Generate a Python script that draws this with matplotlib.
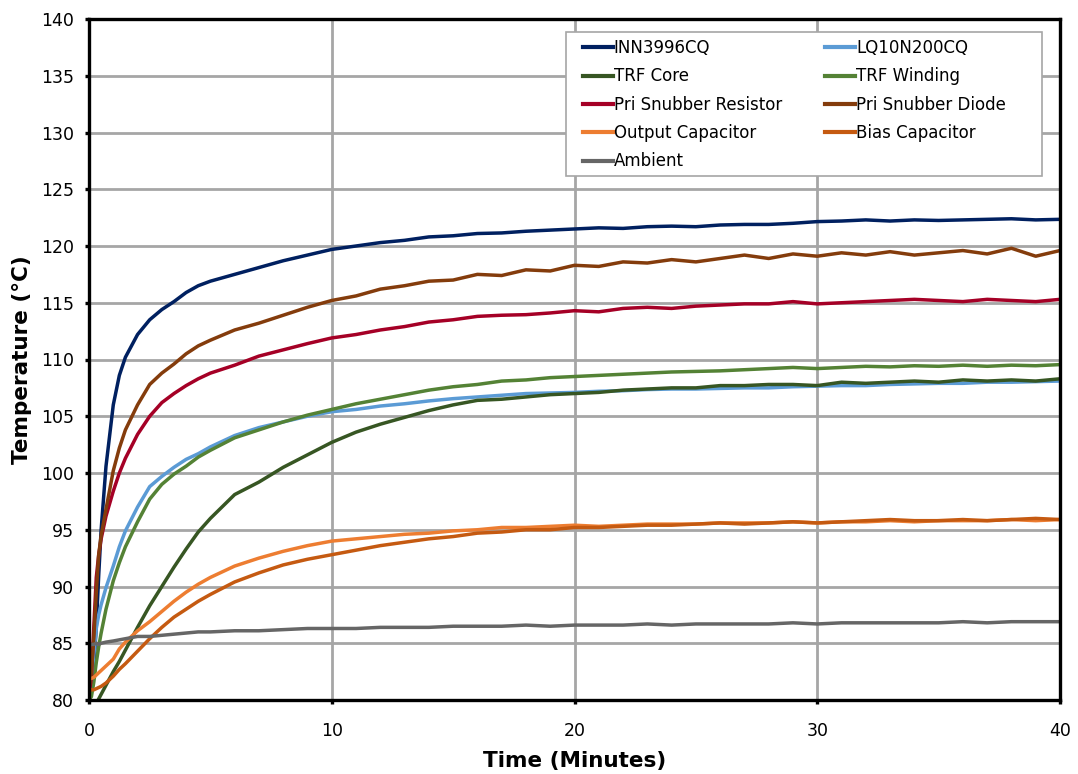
import matplotlib
matplotlib.use("Agg")
import matplotlib.pyplot as plt
from matplotlib.patches import Rectangle

# Time axis (minutes)
time_min = [0, 0.1, 0.2, 0.3, 0.4, 0.5, 0.7, 1.0, 1.25, 1.5, 2, 2.5, 3, 3.5, 4, 4.5, 5, 6, 7, 8, 9,
            10, 11, 12, 13, 14, 15, 16, 17, 18, 19, 20, 21, 22, 23, 24, 25, 26, 27, 28, 29, 30,
            31, 32, 33, 34, 35, 36, 37, 38, 39, 40]

inn3996cq = [80.5, 81.5, 83.0, 86.5, 91.0, 95.0, 100.6, 106.0, 108.6, 110.2, 112.2, 113.5, 114.4, 115.1,
             115.9, 116.5, 116.9, 117.5, 118.1, 118.7, 119.2,
             119.7, 120.0, 120.3, 120.5, 120.8, 120.9, 121.1, 121.15, 121.3, 121.4, 121.5, 121.6, 121.55,
             121.7, 121.75, 121.7, 121.85, 121.9, 121.9, 122.0, 122.15, 122.2, 122.3, 122.2, 122.3,
             122.25, 122.3, 122.35, 122.4, 122.3, 122.35]

lq10n200cq = [80.5, 81.5, 84.0, 86.3, 87.5, 88.4, 89.9, 91.8, 93.5, 94.9, 97.0, 98.8, 99.7, 100.5,
              101.2, 101.7, 102.3, 103.3, 104.0, 104.5, 105.0,
              105.4, 105.6, 105.9, 106.1, 106.35, 106.55, 106.7, 106.85, 107.0, 107.05, 107.1, 107.2,
              107.25, 107.35, 107.4, 107.4, 107.45, 107.5, 107.5, 107.6, 107.65, 107.7, 107.7, 107.8,
              107.85, 107.9, 107.9, 108.0, 108.0, 108.05, 108.1]

trf_core = [78.6, 78.9, 79.3, 79.7, 80.1, 80.5, 81.3, 82.5, 83.4, 84.4, 86.4, 88.3, 90.0, 91.7,
            93.3, 94.8, 96.0, 98.1, 99.2, 100.5, 101.6,
            102.7, 103.6, 104.3, 104.9, 105.5, 106.0, 106.4, 106.5, 106.7, 106.9, 107.0, 107.1, 107.3,
            107.4, 107.5, 107.5, 107.7, 107.7, 107.8, 107.8, 107.7, 108.0, 107.9, 108.0, 108.1, 108.0,
            108.2, 108.1, 108.2, 108.1, 108.3]

trf_winding = [80.0, 80.3, 81.6, 83.3, 84.7, 85.9, 88.0, 90.5, 92.1, 93.5, 95.7, 97.7, 99.0, 99.9,
               100.6, 101.4, 102.0, 103.1, 103.8, 104.5, 105.1,
               105.6, 106.1, 106.5, 106.9, 107.3, 107.6, 107.8, 108.1, 108.2, 108.4, 108.5, 108.6, 108.7,
               108.8, 108.9, 108.95, 109.0, 109.1, 109.2, 109.3, 109.2, 109.3, 109.4, 109.35, 109.45,
               109.4, 109.5, 109.4, 109.5, 109.45, 109.55]

pri_snubber_resistor = [80.5, 82.0, 86.5, 90.8, 92.8, 94.2, 96.2, 98.4, 100.0, 101.3, 103.4, 105.0, 106.2,
                        107.0, 107.7, 108.3, 108.8, 109.5, 110.3, 110.85, 111.4,
                        111.9, 112.2, 112.6, 112.9, 113.3, 113.5, 113.8, 113.9, 113.95, 114.1, 114.3, 114.2,
                        114.5, 114.6, 114.5, 114.7, 114.8, 114.9, 114.9, 115.1, 114.9, 115.0, 115.1, 115.2,
                        115.3, 115.2, 115.1, 115.3, 115.2, 115.1, 115.3]

pri_snubber_diode = [81.0, 82.5, 85.5, 89.5, 92.8, 94.5, 96.8, 100.2, 102.2, 103.8, 106.0, 107.8, 108.8,
                     109.6, 110.5, 111.2, 111.7, 112.6, 113.2, 113.9, 114.6,
                     115.2, 115.6, 116.2, 116.5, 116.9, 117.0, 117.5, 117.4, 117.9, 117.8, 118.3, 118.2,
                     118.6, 118.5, 118.8, 118.6, 118.9, 119.2, 118.9, 119.3, 119.1, 119.4, 119.2, 119.5,
                     119.2, 119.4, 119.6, 119.3, 119.8, 119.1, 119.6]

output_capacitor = [81.9, 81.9, 82.0, 82.2, 82.4, 82.6, 83.0, 83.6, 84.5, 85.1, 86.1, 86.9, 87.8, 88.7,
                    89.5, 90.2, 90.8, 91.8, 92.5, 93.1, 93.6,
                    94.0, 94.2, 94.4, 94.6, 94.7, 94.9, 95.0, 95.2, 95.2, 95.3, 95.4, 95.3, 95.4, 95.5,
                    95.5, 95.5, 95.6, 95.6, 95.6, 95.7, 95.6, 95.7, 95.7, 95.8, 95.7, 95.8, 95.8, 95.8,
                    95.9, 95.8, 95.9]

bias_capacitor = [81.0, 80.9, 80.9, 81.0, 81.1, 81.2, 81.5, 82.1, 82.7, 83.2, 84.3, 85.4, 86.4, 87.3,
                  88.0, 88.7, 89.3, 90.4, 91.2, 91.9, 92.4,
                  92.8, 93.2, 93.6, 93.9, 94.2, 94.4, 94.7, 94.8, 95.0, 95.0, 95.2, 95.2, 95.3, 95.4,
                  95.4, 95.5, 95.6, 95.5, 95.6, 95.7, 95.6, 95.7, 95.8, 95.9, 95.8, 95.8, 95.9, 95.8,
                  95.9, 96.0, 95.9]

ambient = [84.8, 84.9, 84.9, 85.0, 84.9, 85.0, 85.1, 85.2, 85.3, 85.4, 85.6, 85.6, 85.7, 85.8,
           85.9, 86.0, 86.0, 86.1, 86.1, 86.2, 86.3,
           86.3, 86.3, 86.4, 86.4, 86.4, 86.5, 86.5, 86.5, 86.6, 86.5, 86.6, 86.6, 86.6, 86.7,
           86.6, 86.7, 86.7, 86.7, 86.7, 86.8, 86.7, 86.8, 86.8, 86.8, 86.8, 86.8, 86.9, 86.8,
           86.9, 86.9, 86.9]

series_names = ["INN3996CQ", "LQ10N200CQ", "TRF Core", "TRF Winding", "Pri Snubber Resistor",
                "Pri Snubber Diode", "Output Capacitor", "Bias Capacitor", "Ambient"]
series_values = [inn3996cq, lq10n200cq, trf_core, trf_winding, pri_snubber_resistor,
                 pri_snubber_diode, output_capacitor, bias_capacitor, ambient]
series_colors = ["#002060", "#5B9BD5", "#375623", "#548235", "#A50026",
                 "#843C0C", "#ED7D31", "#C55A11", "#666666"]

x_ticks = [0, 10, 20, 30, 40]
y_ticks = list(range(80, 141, 5))

plt.rcParams['font.family'] = ['DejaVu Sans']

W, H = 1078, 774
fig = plt.figure(figsize=(W / 100, H / 100), dpi=100)
L, R, T, B = 89, 1060, 19, 700
ax = fig.add_axes([L / W, 1 - B / H, (R - L) / W, (B - T) / H])

def ax_x(px):
    return (px - L) / (R - L)

def ax_y(py):
    return (B - py) / (B - T)

lines = {}
for name, vals, col in zip(series_names, series_values, series_colors):
    ln, = ax.plot(time_min, vals, color=col, lw=2.5, label=name, solid_joinstyle='round')
    lines[name] = ln

ax.set_xlim(0, 40)
ax.set_ylim(80, 140)
ax.set_xticks(x_ticks)
ax.set_yticks(y_ticks)
ax.grid(True, color="#A6A6A6", lw=2.0)
ax.set_axisbelow(True)

for sp in ax.spines.values():
    sp.set_color("black")
    sp.set_linewidth(2.4)

ax.tick_params(axis='both', direction='out', length=3, width=2.4, labelsize=12.5, colors='black')
ax.tick_params(axis='y', pad=8)
ax.tick_params(axis='x', pad=13)

ax.set_xlabel("Time (Minutes)", fontsize=15.5, fontweight='bold', labelpad=8)
ax.set_ylabel("Temperature (°C)", fontsize=15.5, fontweight='bold', labelpad=6)

# legend frame (Excel style, with extra right margin)
frame = Rectangle((ax_x(566), ax_y(176)), ax_x(1042) - ax_x(566), ax_y(32) - ax_y(176),
                  transform=ax.transAxes, facecolor='white', edgecolor='#A6A6A6', lw=1.2,
                  zorder=4.5)
ax.add_patch(frame)

# legend order: column-major in matplotlib -> reorder for row-wise appearance
order = [0, 2, 4, 6, 8, 1, 3, 5, 7]
handles = [lines[series_names[i]] for i in order]
labels = [series_names[i] for i in order]
leg = ax.legend(handles, labels, ncol=2, loc='upper left', bbox_to_anchor=(ax_x(583), ax_y(39)),
                fontsize=12, frameon=False,
                handlelength=1.8, handletextpad=0.05, labelspacing=0.62, columnspacing=2.6,
                borderpad=0, borderaxespad=0)
leg.set_zorder(5)
for h in leg.get_lines():
    h.set_linewidth(3)

fig.savefig("out.png", dpi=100)
